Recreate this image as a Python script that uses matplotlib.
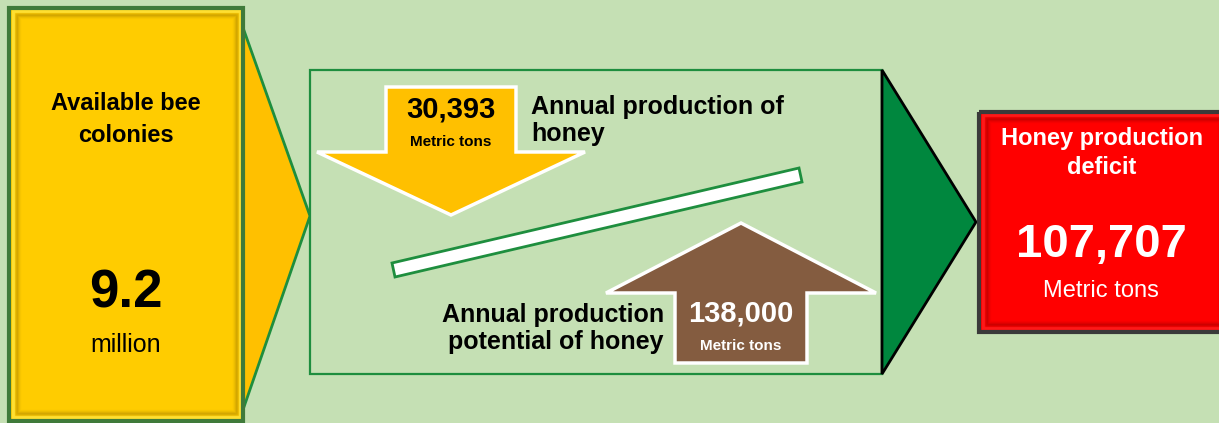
import matplotlib
matplotlib.use("Agg")
import matplotlib.pyplot as plt
from matplotlib.patches import Polygon, Rectangle

plt.rcParams['font.family'] = ['Liberation Sans', 'DejaVu Sans']

# figures shown in the flow
colonies_label = ["Available bee", "colonies"]
colonies_value = 9.2
colonies_unit = "million"
production_label = ["Annual production of", "honey"]
production_value = 30393
potential_label = ["Annual production", "potential of honey"]
potential_value = 138000
deficit_label = ["Honey production", "deficit"]
deficit_value = 107707
unit = "Metric tons"

BG = "#C5E0B4"
GREEN_LINE = "#1E8E3E"

W, H = 1219, 423
fig = plt.figure(figsize=(W / 100, H / 100), dpi=100)
fig.patch.set_facecolor(BG)
ax = fig.add_axes([0, 0, 1, 1])
ax.set_xlim(0, W)
ax.set_ylim(H, 0)
ax.axis("off")
ax.set_facecolor(BG)


def bevel_box(x0, y0, x1, y1, face, light, dark, edge, lw=2.5):
    # flat face, a bright rim and a soft inset shadow line for a raised look
    ax.add_patch(Rectangle((x0, y0), x1 - x0, y1 - y0, facecolor=face, edgecolor="none", zorder=2))
    for d in (2.5, 3.5, 4.5):
        ax.add_patch(Rectangle((x0 + d, y0 + d), x1 - x0 - 2 * d, y1 - y0 - 2 * d,
                               facecolor="none", edgecolor=light, lw=1, alpha=0.7, zorder=3))
    for d, a in ((5.5, 0.12), (6.5, 0.24), (7.5, 0.3), (8.5, 0.2), (9.5, 0.1), (10.5, 0.05)):
        ax.add_patch(Rectangle((x0 + d, y0 + d), x1 - x0 - 2 * d, y1 - y0 - 2 * d,
                               facecolor="none", edgecolor=dark, lw=1, alpha=a, zorder=3))
    ax.add_patch(Rectangle((x0, y0), x1 - x0, y1 - y0, facecolor="none", edgecolor=edge, lw=lw, zorder=4))


# yellow chevron behind the colonies box
ax.add_patch(Polygon([(236, 8), (310, 216), (236, 430)], closed=True,
                     facecolor="#FFC000", edgecolor=GREEN_LINE, lw=2, zorder=1))
bevel_box(9, 8, 243, 421, "#FFCC00", "#FFE640", "#8A6A00", "#3F7A3A", lw=3)

ax.text(126, 103, colonies_label[0], ha="center", va="center", fontsize=17, fontweight="bold", zorder=5)
ax.text(126, 135, colonies_label[1], ha="center", va="center", fontsize=17, fontweight="bold", zorder=5)
ax.text(126, 294, f"{colonies_value}", ha="center", va="center", fontsize=38, fontweight="bold", zorder=5)
ax.text(126, 345, colonies_unit, ha="center", va="center", fontsize=18, zorder=5)

# middle panel
ax.add_patch(Rectangle((310, 70), 572, 304, facecolor=BG, edgecolor=GREEN_LINE, lw=1.6, zorder=1))

# green chevron to the deficit box
ax.add_patch(Polygon([(882, 70), (976, 222), (882, 374)], closed=True,
                     facecolor="#00873E", edgecolor="black", lw=2, zorder=1))

# production arrow (down)
down = [(386, 87), (516, 87), (516, 152), (585, 152), (451, 215), (317, 152), (386, 152)]
ax.add_patch(Polygon(down, closed=True, facecolor="#FFC000", edgecolor="white", lw=2.5, zorder=3))
ax.text(451, 109, f"{production_value:,}", ha="center", va="center", fontsize=21, fontweight="bold", zorder=5)
ax.text(451, 142, unit, ha="center", va="center", fontsize=11, fontweight="bold", zorder=5)
ax.text(531, 107, production_label[0], ha="left", va="center", fontsize=18, fontweight="bold", zorder=5)
ax.text(531, 134, production_label[1], ha="left", va="center", fontsize=18, fontweight="bold", zorder=5)

# balance beam
beam = [(392, 263), (799, 168), (802, 182), (395, 277)]
ax.add_patch(Polygon(beam, closed=True, facecolor="white", edgecolor=GREEN_LINE, lw=2, zorder=3))

# potential arrow (up)
up = [(675, 363), (807, 363), (807, 293), (876, 293), (741, 223), (606, 293), (675, 293)]
ax.add_patch(Polygon(up, closed=True, facecolor="#845C40", edgecolor="white", lw=2.5, zorder=3))
ax.text(741, 313, f"{potential_value:,}", ha="center", va="center", fontsize=21, fontweight="bold",
        color="white", zorder=5)
ax.text(741, 346, unit, ha="center", va="center", fontsize=11, fontweight="bold", color="white", zorder=5)
ax.text(664, 315, potential_label[0], ha="right", va="center", fontsize=18, fontweight="bold", zorder=5)
ax.text(664, 342, potential_label[1], ha="right", va="center", fontsize=18, fontweight="bold", zorder=5)

# deficit box
bevel_box(979, 112, 1228, 332, "#FF0000", "#FF2020", "#7A0000", "#3A3A3A", lw=3)
ax.text(1102, 138, deficit_label[0], ha="center", va="center", fontsize=17, fontweight="bold",
        color="white", zorder=5)
ax.text(1102, 167, deficit_label[1], ha="center", va="center", fontsize=17, fontweight="bold",
        color="white", zorder=5)
ax.text(1101, 245, f"{deficit_value:,}", ha="center", va="center", fontsize=34, fontweight="bold",
        color="white", zorder=5)
ax.text(1101, 291, unit, ha="center", va="center", fontsize=17, color="white", zorder=5)

fig.savefig("out.png", dpi=100, facecolor=BG)
